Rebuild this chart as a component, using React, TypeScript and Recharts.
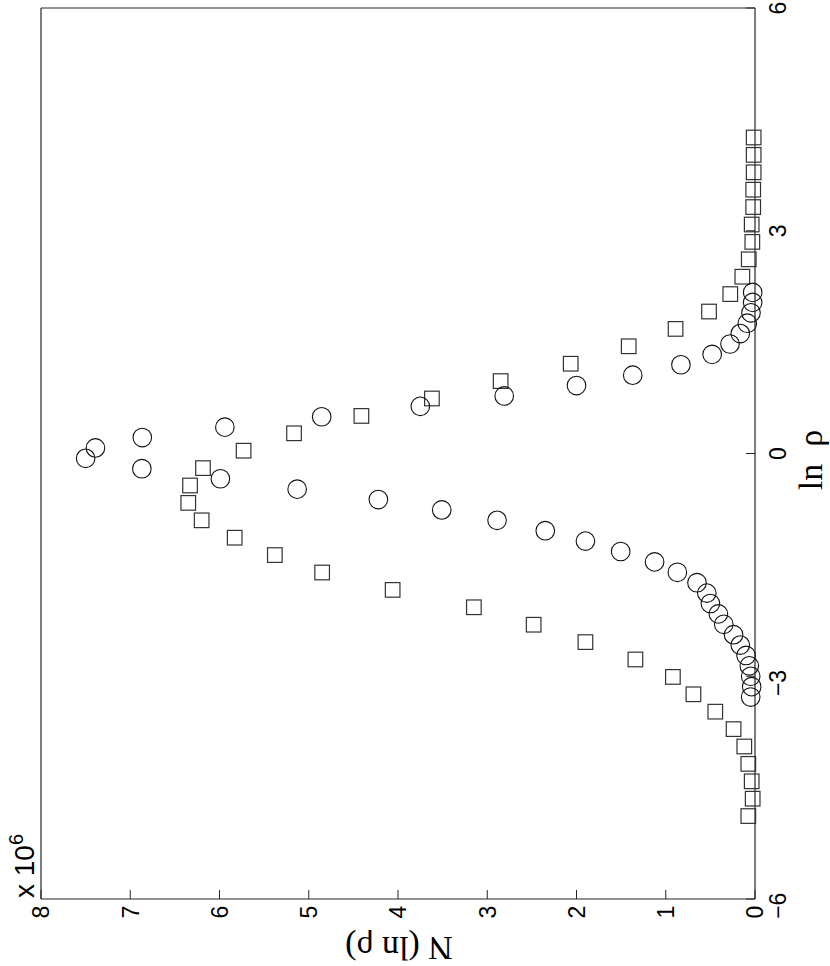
import React from 'react';
import { ScatterChart, Scatter, XAxis, YAxis } from 'recharts';

// ln(rho) bin centres and counts (in units of 10^6) for the circle series
const circleLnRho = [
  -3.28, -3.14, -3.0, -2.86, -2.72, -2.58, -2.44, -2.3, -2.16, -2.02,
  -1.88, -1.74, -1.6, -1.46, -1.32, -1.18, -1.04, -0.9, -0.76, -0.62,
  -0.48, -0.34, -0.205, -0.065, 0.075, 0.215, 0.355, 0.495, 0.635, 0.775,
  0.915, 1.055, 1.195, 1.335, 1.475, 1.615, 1.755, 1.895, 2.035, 2.17,
];
const circleCount = [
  0.048, 0.037, 0.048, 0.064, 0.1, 0.165, 0.24, 0.35, 0.41, 0.5,
  0.54, 0.65, 0.87, 1.125, 1.505, 1.9, 2.35, 2.89, 3.51, 4.22,
  5.13, 5.99, 6.87, 7.5, 7.39, 6.865, 5.94, 4.855, 3.75, 2.81,
  2.0, 1.37, 0.83, 0.48, 0.28, 0.165, 0.086, 0.045, 0.026, 0.026,
];

// ln(rho) bin centres and counts (in units of 10^6) for the square series
const squareLnRho = [
  -4.883, -4.649, -4.415, -4.18, -3.946, -3.712, -3.477, -3.243, -3.009, -2.774,
  -2.54, -2.306, -2.071, -1.837, -1.603, -1.368, -1.134, -0.9, -0.665, -0.431,
  -0.197, 0.038, 0.272, 0.506, 0.741, 0.975, 1.209, 1.444, 1.678, 1.912,
  2.147, 2.381, 2.615, 2.85, 3.084, 3.319, 3.553, 3.787, 4.022, 4.256,
];
const squareCount = [
  0.075, 0.026, 0.037, 0.075, 0.12, 0.24, 0.445, 0.69, 0.92, 1.34,
  1.9, 2.48, 3.15, 4.06, 4.85, 5.38, 5.83, 6.2, 6.35, 6.33,
  6.185, 5.73, 5.165, 4.41, 3.62, 2.85, 2.065, 1.415, 0.89, 0.515,
  0.277, 0.142, 0.07, 0.03, 0.037, 0.02, 0.02, 0.015, 0.015, 0.015,
];

const countTicks = [0, 1, 2, 3, 4, 5, 6, 7, 8];
const lnRhoTicks = [-6, -3, 0, 3, 6];

const circleData = circleLnRho.map((r, i) => ({ r, n: circleCount[i] }));
const squareData = squareLnRho.map((r, i) => ({ r, n: squareCount[i] }));

const AXIS = '#262626';
const FS = 23;
const SANS = '"Liberation Sans", Arial, Helvetica, sans-serif';
const SERIF = '"Liberation Serif", "Times New Roman", serif';
const TICK_LEN = 9;

const fmt = (v: number) => (v < 0 ? '\u2212' + Math.abs(v) : String(v));

const BottomTick = (props: any) => {
  const { x, y, payload } = props;
  return (
    <g>
      <line x1={x} y1={y} x2={x} y2={y - TICK_LEN} stroke={AXIS} strokeWidth={1} />
      <text
        transform={`translate(${x},${y + 13}) rotate(-90)`}
        x={0}
        y={0.36 * FS}
        textAnchor="middle"
        fontSize={FS}
        fontFamily={SANS}
        fill="#000"
      >
        {fmt(payload.value)}
      </text>
    </g>
  );
};

const TopTick = (props: any) => {
  const { x, y } = props;
  return <line x1={x} y1={y} x2={x} y2={y + TICK_LEN} stroke={AXIS} strokeWidth={1} />;
};

const RightTick = (props: any) => {
  const { x, y, payload } = props;
  return (
    <g>
      <line x1={x} y1={y} x2={x - TICK_LEN} y2={y} stroke={AXIS} strokeWidth={1} />
      <text
        transform={`translate(${x + 23},${y}) rotate(-90)`}
        x={0.278 * FS}
        y={0.36 * FS}
        textAnchor="end"
        fontSize={FS}
        fontFamily={SANS}
        fill="#000"
      >
        {fmt(payload.value)}
      </text>
    </g>
  );
};

const LeftTick = (props: any) => {
  const { x, y } = props;
  return <line x1={x} y1={y} x2={x + TICK_LEN} y2={y} stroke={AXIS} strokeWidth={1} />;
};

const circleShape = (props: any) => (
  <circle cx={props.cx} cy={props.cy} r={9.3} fill="none" stroke="#111" strokeWidth={1.1} />
);
const squareShape = (props: any) => (
  <rect
    x={props.cx - 7.3}
    y={props.cy - 7.3}
    width={14.6}
    height={14.6}
    fill="none"
    stroke="#333"
    strokeWidth={1.2}
  />
);

export default function App() {
  return (
    <div style={{ position: 'absolute', left: 0, top: 0, width: 830, height: 966, background: '#fff' }}>
      <ScatterChart width={830} height={966} margin={{ top: 7, right: 74, bottom: 66, left: 40 }}>
        <XAxis
          xAxisId="b"
          type="number"
          dataKey="n"
          domain={[0, 8]}
          reversed
          ticks={countTicks}
          interval={0}
          orientation="bottom"
          height={1}
          tickSize={0}
          tickMargin={0}
          tickLine={false}
          axisLine={{ stroke: AXIS, strokeWidth: 1.2 }}
          tick={<BottomTick />}
        />
        <XAxis
          xAxisId="t"
          type="number"
          dataKey="n"
          domain={[0, 8]}
          reversed
          ticks={countTicks}
          interval={0}
          orientation="top"
          height={1}
          tickSize={0}
          tickMargin={0}
          tickLine={false}
          axisLine={{ stroke: AXIS, strokeWidth: 1.2 }}
          tick={<TopTick />}
        />
        <YAxis
          yAxisId="r"
          type="number"
          dataKey="r"
          domain={[-6, 6]}
          ticks={lnRhoTicks}
          interval={0}
          orientation="right"
          width={1}
          tickSize={0}
          tickMargin={0}
          tickLine={false}
          axisLine={{ stroke: AXIS, strokeWidth: 1.2 }}
          tick={<RightTick />}
        />
        <YAxis
          yAxisId="l"
          type="number"
          dataKey="r"
          domain={[-6, 6]}
          ticks={lnRhoTicks}
          interval={0}
          orientation="left"
          width={1}
          tickSize={0}
          tickMargin={0}
          tickLine={false}
          axisLine={{ stroke: AXIS, strokeWidth: 1.2 }}
          tick={<LeftTick />}
        />
        <Scatter
          data={squareData}
          xAxisId="b"
          yAxisId="r"
          shape={squareShape}
          isAnimationActive={false}
        />
        <Scatter
          data={circleData}
          xAxisId="b"
          yAxisId="r"
          shape={circleShape}
          isAnimationActive={false}
        />
        <text
          transform="translate(399,937) rotate(180)"
          textAnchor="middle"
          fontSize={34}
          fontFamily={SERIF}
          fill="#000"
        >
          N (ln ρ)
        </text>
        <text
          transform="translate(822,460) rotate(-90)"
          textAnchor="middle"
          fontSize={34}
          fontFamily={SERIF}
          fill="#000"
          xmlSpace="preserve"
        >
          ln  ρ
        </text>
        <text
          transform="translate(34,898) rotate(-90)"
          textAnchor="start"
          fontSize={28}
          fontFamily={SANS}
          fill="#000"
        >
          x 10
          <tspan fontSize={20} dy={-11}>6</tspan>
        </text>
      </ScatterChart>
    </div>
  );
}
